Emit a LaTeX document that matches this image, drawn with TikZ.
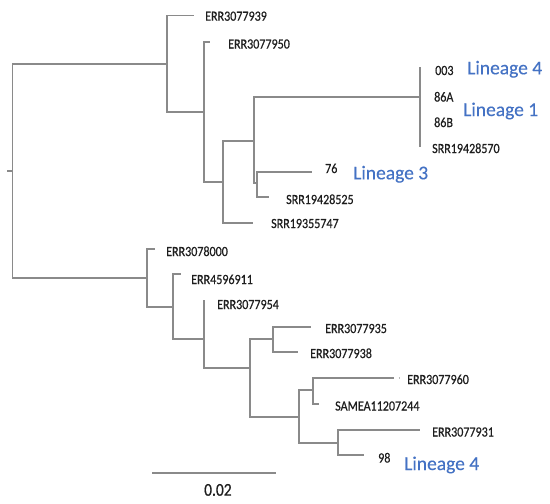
\documentclass[tikz,border=0pt]{standalone}
\usepackage{fontspec}
\setmainfont{Carlito}
\newfontfamily\leaffont[FakeStretch=0.86,FakeBold=0.5]{Carlito}
\newfontfamily\linfont[FakeBold=0.2]{Carlito}
\definecolor{branchgray}{HTML}{8A8A8A}
\definecolor{leafgray}{HTML}{1E1E1E}
\definecolor{linblue}{HTML}{4472C4}
\tikzset{
  branch/.style={draw=branchgray, line width=1.3pt, line cap=rect},
  leaflab/.style={anchor=base west, inner sep=0pt, text=leafgray, font=\leaffont\fontsize{14}{14}\selectfont},
  linlab/.style={anchor=base west, inner sep=0pt, text=linblue, font=\linfont\fontsize{19.5}{19.5}\selectfont},
}
\begin{document}
\begin{tikzpicture}[x=1pt,y=-1pt]
\useasboundingbox[fill=white] (0,0) rectangle (550,504);
% internal nodes
\coordinate (stub) at (8,171);
\coordinate (R) at (12.7,171);
\coordinate (A) at (167,64);
\coordinate (B) at (204,112);
\coordinate (C) at (223,182);
\coordinate (D) at (254,141);
\coordinate (E) at (420,97);
\coordinate (F) at (257,183);
\coordinate (G) at (147,278);
\coordinate (H) at (173,307);
\coordinate (I) at (204,339);
\coordinate (J) at (250,368);
\coordinate (K) at (273,339);
\coordinate (L) at (299,417);
\coordinate (M) at (313,390);
\coordinate (N) at (338,443);
% tips
\coordinate (t39) at (193,15.7);
\coordinate (t50) at (209,42);
\coordinate (e1) at (420,68);
\coordinate (e4) at (420,146);
\coordinate (t76) at (311,172);
\coordinate (t25) at (268,197);
\coordinate (t47) at (252,223);
\coordinate (t00) at (154,249);
\coordinate (t11) at (180,274);
\coordinate (t54) at (204,301);
\coordinate (t35) at (310,327);
\coordinate (t38) at (297,352);
\coordinate (t60) at (393,378);
\coordinate (t60a) at (398.8,378);
\coordinate (t60b) at (400,378);
\coordinate (t44) at (318,404);
\coordinate (t31) at (419,430);
\coordinate (t98) at (363,455);
\coordinate (sb1) at (153,473);
\coordinate (sb2) at (275,473);
% branches
\draw[branch] (stub) -- (R);
\draw[branch] (R) |- (A);
\draw[branch] (A) |- (t39);
\draw[branch] (A) |- (B);
\draw[branch] (B) |- (t50);
\draw[branch] (B) |- (C);
\draw[branch] (C) |- (D);
\draw[branch] (C) |- (t47);
\draw[branch] (D) |- (E);
\draw[branch] (e1) -- (e4);
\draw[branch] (D) |- (F);
\draw[branch] (F) |- (t76);
\draw[branch] (F) |- (t25);
\draw[branch] (R) |- (G);
\draw[branch] (G) |- (t00);
\draw[branch] (G) |- (H);
\draw[branch] (H) |- (t11);
\draw[branch] (H) |- (I);
\draw[branch] (I) |- (t54);
\draw[branch] (I) |- (J);
\draw[branch] (J) |- (K);
\draw[branch] (K) |- (t35);
\draw[branch] (K) |- (t38);
\draw[branch] (J) |- (L);
\draw[branch] (L) |- (M);
\draw[branch] (M) |- (t60);
\draw[branch, line cap=butt, draw=branchgray!60] (t60a) -- (t60b);
\draw[branch] (M) |- (t44);
\draw[branch] (L) |- (N);
\draw[branch] (N) |- (t31);
\draw[branch] (N) |- (t98);
\draw[branch] (sb1) -- (sb2);
% leaf labels
\node[leaflab] (l39) at (205,20.7) {ERR3077939};
\node[leaflab] (l50) at (228,48.5) {ERR3077950};
\node[leaflab] (l003) at (435,75) {003};
\node[leaflab] (l86a) at (434,101.5) {86A};
\node[leaflab] (l86b) at (434,127) {86B};
\node[leaflab] (l570) at (432,153) {SRR19428570};
\node[leaflab] (l76) at (325,173) {76};
\node[leaflab] (l525) at (286,204) {SRR19428525};
\node[leaflab] (l747) at (271,228) {SRR19355747};
\node[leaflab] (l000) at (166,256) {ERR3078000};
\node[leaflab] (l911) at (191,284) {ERR4596911};
\node[leaflab] (l954) at (217,309) {ERR3077954};
\node[leaflab] (l935) at (325,333) {ERR3077935};
\node[leaflab] (l938) at (310,358) {ERR3077938};
\node[leaflab] (l960) at (407,384) {ERR3077960};
\node[leaflab] (l244) at (335,410.5) {SAMEA11207244};
\node[leaflab] (l931) at (432,436.5) {ERR3077931};
\node[leaflab] (l98) at (378,462.5) {98};
% lineage labels
\node[linlab] (lin4a) at (467,74.3) {Lineage 4};
\node[linlab] (lin1) at (463,116) {Lineage 1};
\node[linlab] (lin3) at (353,179.3) {Lineage 3};
\node[linlab] (lin4b) at (404,470) {Lineage 4};
% scale
\node[leaflab, font=\leaffont\fontsize{18}{18}\selectfont] (scl) at (204,495.7) {0.02};
\end{tikzpicture}
\end{document}
